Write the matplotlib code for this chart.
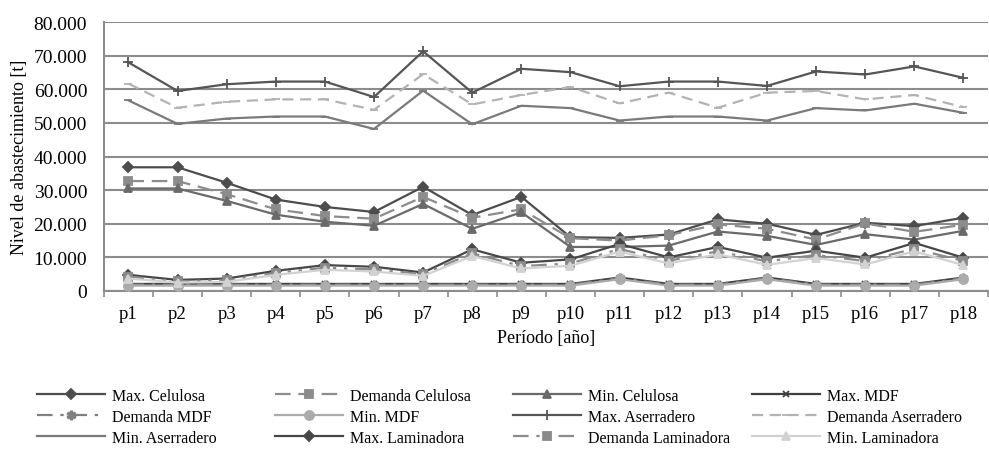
import matplotlib
matplotlib.use("Agg")
import matplotlib.pyplot as plt
from matplotlib.ticker import FuncFormatter, FixedLocator

plt.rcParams['font.family'] = ['Liberation Serif', 'DejaVu Serif']

periodos = ["p%d" % i for i in range(1, 19)]

max_celulosa = [36800, 36800, 32200, 27200, 25000, 23500, 31000, 22600, 28000,
                16000, 15800, 16800, 21300, 20000, 16700, 20300, 19300, 21800]
dem_celulosa = [32700, 32700, 28800, 24300, 22300, 21500, 28000, 21800, 24300,
                15700, 15000, 16600, 19800, 18500, 15300, 20100, 17600, 19700]
min_celulosa = [30500, 30500, 26800, 22700, 20600, 19400, 25900, 18500, 23400,
                13100, 13100, 13500, 17700, 16400, 13700, 16900, 15300, 17900]

max_mdf = [2100, 2100, 2100, 2100, 2100, 2100, 2100, 2100, 2100,
           2100, 4000, 2100, 2100, 4000, 2100, 2100, 2100, 4000]
dem_mdf = [1900, 1900, 1900, 1900, 1900, 1900, 1900, 1900, 1900,
           1900, 3800, 1900, 1900, 3800, 1900, 1900, 1900, 3800]
min_mdf = [1600, 1600, 1600, 1600, 1600, 1600, 1600, 1600, 1600,
           1600, 3500, 1600, 1600, 3500, 1600, 1600, 1600, 3500]

max_aserr = [68000, 59500, 61500, 62300, 62300, 57700, 71300, 59000, 66100,
             65100, 60900, 62300, 62300, 61000, 65300, 64400, 66800, 63400]
dem_aserr = [61700, 54500, 56300, 57000, 57000, 53900, 64500, 55500, 58300,
             60700, 55800, 59000, 54500, 59000, 59500, 57000, 58300, 54700]
min_aserr = [56700, 49700, 51300, 51900, 51900, 48200, 59600, 49600, 55100,
             54400, 50700, 51900, 51900, 50700, 54400, 53700, 55700, 53000]

max_lamin = [4800, 3300, 3700, 6000, 7700, 7200, 5500, 12400, 8400,
             9400, 14000, 10000, 13100, 9900, 12000, 9900, 14300, 9900]
dem_lamin = [4300, 2900, 3200, 5400, 6900, 6400, 5000, 11200, 7400,
             8200, 12500, 9000, 11800, 8800, 10700, 8900, 12600, 8900]
min_lamin = [3700, 2500, 2700, 4800, 6300, 5800, 4500, 10400, 6700,
             7500, 11700, 8200, 10900, 7800, 9800, 7900, 11800, 7700]

series = [
    ("Max. Celulosa", max_celulosa, "#4d4d4d", "-", "D"),
    ("Demanda Celulosa", dem_celulosa, "#8c8c8c", (0, (7, 3.5)), "s"),
    ("Min. Celulosa", min_celulosa, "#6a6a6a", "-", "^"),
    ("Max. MDF", max_mdf, "#3f3f3f", "-", "x"),
    ("Demanda MDF", dem_mdf, "#808080", (0, (7, 3.5, 1.5, 3.5)), "$\u2731$"),
    ("Min. MDF", min_mdf, "#ababab", "-", "o"),
    ("Max. Aserradero", max_aserr, "#555555", "-", "+"),
    ("Demanda Aserradero", dem_aserr, "#b3b3b3", (0, (5, 3)), "_"),
    ("Min. Aserradero", min_aserr, "#7a7a7a", "-", "_"),
    ("Max. Laminadora", max_lamin, "#474747", "-", "D"),
    ("Demanda Laminadora", dem_lamin, "#8a8a8a", (0, (7, 3.5, 1.5, 3.5, 1.5, 3.5)), "s"),
    ("Min. Laminadora", min_lamin, "#d2d2d2", "-", "^"),
]

fig = plt.figure(figsize=(9.89, 4.52), dpi=100)
ax = fig.add_axes([0.105, 0.354, 0.894, 0.595])

x = list(range(len(periodos)))
handles = []
for name, vals, col, ls, mk in series:
    ms = 6
    if mk == "D":
        ms = 5
    if mk == "+":
        ms = 7
    if mk == "x":
        ms = 5
    if mk == "o":
        ms = 6.5
    h, = ax.plot(x, vals, color=col, linestyle=ls, linewidth=1.6, marker=mk,
                 markersize=ms, markeredgewidth=1.3, label=name, zorder=3)
    handles.append(h)

ax.set_xlim(-0.5, len(periodos) - 0.5)
ax.set_ylim(0, 80000)
ax.set_yticks(range(0, 80001, 10000))
ax.yaxis.set_major_formatter(FuncFormatter(lambda v, p: "{:,.0f}".format(v).replace(",", ".")))
ax.set_xticks(x)
ax.set_xticklabels(periodos)
ax.xaxis.set_minor_locator(FixedLocator([i - 0.5 for i in range(len(periodos) + 1)]))
ax.tick_params(axis="x", which="major", length=0, pad=10, labelsize=13.5)
ax.tick_params(axis="x", which="minor", length=4, color="#8c8c8c", width=1.2)
ax.tick_params(axis="y", length=0, pad=12, labelsize=14)

ax.grid(axis="y", color="#8c8c8c", linewidth=1.5)
ax.set_axisbelow(True)
for s in ("top", "right"):
    ax.spines[s].set_visible(False)
ax.spines["left"].set_color("#8c8c8c")
ax.spines["left"].set_linewidth(1.5)
ax.spines["bottom"].set_color("#8c8c8c")
ax.spines["bottom"].set_linewidth(1.5)

ax.set_ylabel("Nivel de abastecimiento [t]", fontsize=13, labelpad=4)
ax.set_xlabel("Período [año]", fontsize=13, labelpad=5)

# legend: 4 columns laid out row by row
col_x = [37, 275, 513, 752]
for c in range(4):
    hs = [handles[c + 4 * r] for r in range(3)]
    fig.legend(handles=hs, labels=[h.get_label() for h in hs],
               loc="upper left", bbox_to_anchor=(col_x[c] / 989, 1 - 389 / 452),
               frameon=False, borderpad=0, borderaxespad=0, fontsize=11.5,
               handlelength=4.25, handletextpad=0.45, labelspacing=0.3)

fig.savefig("out.png", dpi=100)
